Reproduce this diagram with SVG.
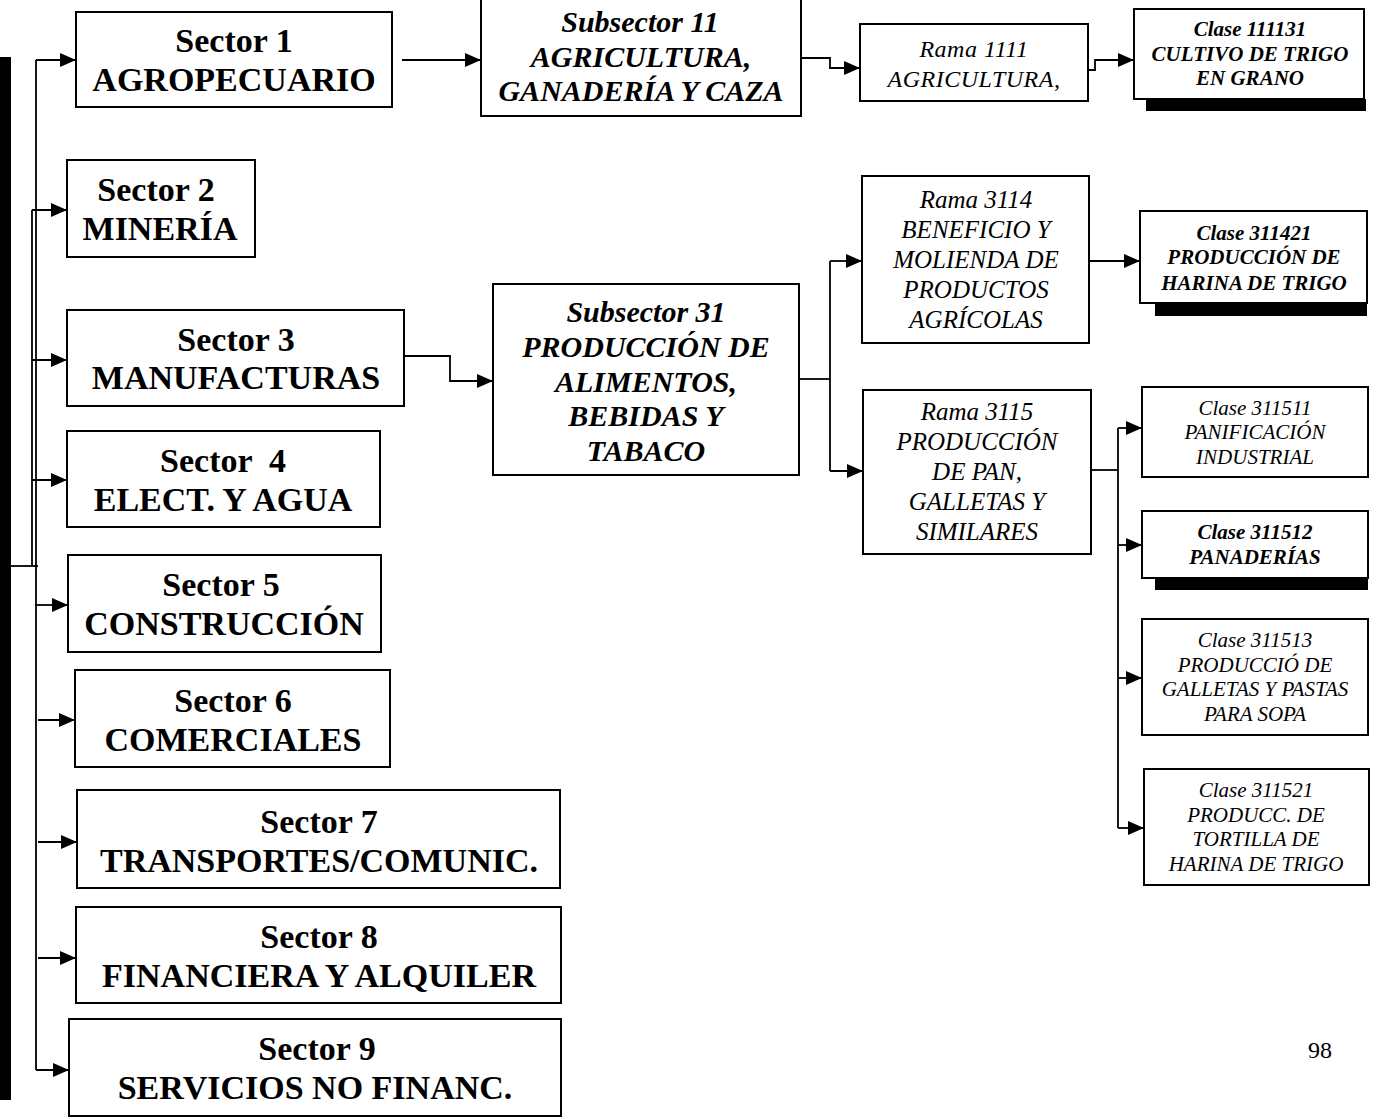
<svg xmlns="http://www.w3.org/2000/svg" width="1380" height="1119" viewBox="0 0 1380 1119">
  <style>
    .box { fill: #fff; stroke: #000; stroke-width: 2; }
    .shadow { fill: #000; }
    .wire { fill: none; stroke: #000; stroke-width: 1.8; }
    .arr { fill: none; stroke: #000; stroke-width: 1.8; marker-end: url(#ah); }
    text { fill: #000; text-anchor: middle; font-family: "Liberation Serif", "Times New Roman", serif; }
    .sec { font-size: 34px; font-weight: bold; }
    .sub { font-size: 30px; font-weight: bold; font-style: italic; }
    .rama { font-size: 25px; font-style: italic; }
    .cl { font-size: 21px; font-style: italic; }
    .clb { font-size: 21px; font-style: italic; font-weight: bold; }
  </style>
  <defs>
    <marker id="ah" viewBox="0 0 16 14" refX="16" refY="7" markerWidth="16" markerHeight="14" markerUnits="userSpaceOnUse" orient="auto">
      <path d="M0,0 L16,7 L0,14 Z" fill="#000"/>
    </marker>
  </defs>
  <rect width="1380" height="1119" fill="#fff"/>

  <!-- binding strip on the page edge -->
  <rect x="0" y="57" width="11" height="1043" fill="#000"/>

  <g id="connectors">
    <!-- trunk to the nine sectors -->
    <path class="wire" d="M36,60 V1070"/>
    <path class="wire" d="M32,210 V566"/>
    <path class="wire" d="M10,566 H38"/>
    <path class="arr" d="M36,60 H76"/>
    <path class="arr" d="M32,210 H67"/>
    <path class="arr" d="M32,360 H67"/>
    <path class="arr" d="M32,480 H67"/>
    <path class="arr" d="M36,605 H68"/>
    <path class="arr" d="M38,720 H75"/>
    <path class="arr" d="M38,842 H77"/>
    <path class="arr" d="M38,958 H76"/>
    <path class="arr" d="M36,1070 H69"/>
    <!-- sector 1 branch -->
    <path class="arr" d="M402,60 H481"/>
    <path class="arr" d="M801,58 H830 V68 H860"/>
    <path class="arr" d="M1088,70 H1095 V60 H1134"/>
    <!-- sector 3 branch -->
    <path class="arr" d="M404,356 H450 V381 H493"/>
    <path class="wire" d="M799,379 H830"/>
    <path class="wire" d="M830,261 V471"/>
    <path class="arr" d="M830,261 H862"/>
    <path class="arr" d="M830,471 H863"/>
    <path class="arr" d="M1088,261 H1140"/>
    <path class="wire" d="M1091,470 H1118"/>
    <path class="wire" d="M1118,428 V828"/>
    <path class="arr" d="M1118,428 H1142"/>
    <path class="arr" d="M1118,545 H1142"/>
    <path class="arr" d="M1118,678 H1142"/>
    <path class="arr" d="M1118,828 H1144"/>
  </g>

  <g id="sector1">
    <rect class="box" x="76" y="12" width="316" height="95"/>
    <text class="sec" x="234" y="52">Sector 1</text>
    <text class="sec" x="234" y="91">AGROPECUARIO</text>
  </g>
  <g id="sector2">
    <rect class="box" x="67" y="160" width="188" height="97"/>
    <text class="sec" x="156" y="201">Sector 2</text>
    <text class="sec" x="160" y="240">MINERÍA</text>
  </g>
  <g id="sector3">
    <rect class="box" x="67" y="310" width="337" height="96"/>
    <text class="sec" x="236" y="351">Sector 3</text>
    <text class="sec" x="236" y="389">MANUFACTURAS</text>
  </g>
  <g id="sector4">
    <rect class="box" x="67" y="431" width="313" height="96"/>
    <text class="sec" x="223" y="472" xml:space="preserve">Sector  4</text>
    <text class="sec" x="223" y="511">ELECT. Y AGUA</text>
  </g>
  <g id="sector5">
    <rect class="box" x="68" y="555" width="313" height="97"/>
    <text class="sec" x="221" y="596">Sector 5</text>
    <text class="sec" x="224" y="635">CONSTRUCCIÓN</text>
  </g>
  <g id="sector6">
    <rect class="box" x="75" y="670" width="315" height="97"/>
    <text class="sec" x="233" y="712">Sector 6</text>
    <text class="sec" x="233" y="751">COMERCIALES</text>
  </g>
  <g id="sector7">
    <rect class="box" x="77" y="790" width="483" height="98"/>
    <text class="sec" x="319" y="833">Sector 7</text>
    <text class="sec" x="319" y="872">TRANSPORTES/COMUNIC.</text>
  </g>
  <g id="sector8">
    <rect class="box" x="76" y="907" width="485" height="96"/>
    <text class="sec" x="319" y="948">Sector 8</text>
    <text class="sec" x="319" y="987">FINANCIERA Y ALQUILER</text>
  </g>
  <g id="sector9">
    <rect class="box" x="69" y="1019" width="492" height="97"/>
    <text class="sec" x="317" y="1060">Sector 9</text>
    <text class="sec" x="315" y="1099">SERVICIOS NO FINANC.</text>
  </g>

  <g id="subsector11">
    <rect class="box" x="481" y="-2" width="320" height="118"/>
    <text class="sub" x="640" y="32">Subsector 11</text>
    <text class="sub" x="641" y="67">AGRICULTURA,</text>
    <text class="sub" x="641" y="101">GANADERÍA Y CAZA</text>
  </g>
  <g id="subsector31">
    <rect class="box" x="493" y="284" width="306" height="191"/>
    <text class="sub" x="646" y="322">Subsector 31</text>
    <text class="sub" x="646" y="357">PRODUCCIÓN DE</text>
    <text class="sub" x="646" y="392">ALIMENTOS,</text>
    <text class="sub" x="646" y="426">BEBIDAS Y</text>
    <text class="sub" x="646" y="461">TABACO</text>
  </g>

  <g id="rama1111">
    <rect class="box" x="860" y="24" width="228" height="77"/>
    <text class="rama" x="974" y="57" style="font-size:24px;letter-spacing:0.5px">Rama 1111</text>
    <text class="rama" x="974" y="87" style="font-size:24px;letter-spacing:0.5px">AGRICULTURA,</text>
  </g>
  <g id="rama3114">
    <rect class="box" x="862" y="176" width="227" height="167"/>
    <text class="rama" x="976" y="208">Rama 3114</text>
    <text class="rama" x="976" y="238">BENEFICIO Y</text>
    <text class="rama" x="976" y="268">MOLIENDA DE</text>
    <text class="rama" x="976" y="298">PRODUCTOS</text>
    <text class="rama" x="976" y="328">AGRÍCOLAS</text>
  </g>
  <g id="rama3115">
    <rect class="box" x="863" y="390" width="228" height="164"/>
    <text class="rama" x="977" y="420">Rama 3115</text>
    <text class="rama" x="977" y="450">PRODUCCIÓN</text>
    <text class="rama" x="977" y="480">DE PAN,</text>
    <text class="rama" x="977" y="510">GALLETAS Y</text>
    <text class="rama" x="977" y="540">SIMILARES</text>
  </g>

  <g id="clase111131">
    <rect class="shadow" x="1146" y="99" width="220" height="12"/>
    <rect class="box" x="1134" y="9" width="230" height="90"/>
    <text class="clb" x="1250" y="36">Clase 111131</text>
    <text class="clb" x="1250" y="61">CULTIVO DE TRIGO</text>
    <text class="clb" x="1250" y="85">EN GRANO</text>
  </g>
  <g id="clase311421">
    <rect class="shadow" x="1155" y="302" width="212" height="14"/>
    <rect class="box" x="1140" y="211" width="227" height="92"/>
    <text class="clb" x="1254" y="240">Clase 311421</text>
    <text class="clb" x="1254" y="264">PRODUCCIÓN DE</text>
    <text class="clb" x="1254" y="290">HARINA DE TRIGO</text>
  </g>
  <g id="clase311511">
    <rect class="box" x="1142" y="387" width="226" height="90"/>
    <text class="cl" x="1255" y="415">Clase 311511</text>
    <text class="cl" x="1255" y="439">PANIFICACIÓN</text>
    <text class="cl" x="1255" y="464">INDUSTRIAL</text>
  </g>
  <g id="clase311512">
    <rect class="shadow" x="1155" y="577" width="213" height="13"/>
    <rect class="box" x="1142" y="511" width="226" height="67"/>
    <text class="clb" x="1255" y="539">Clase 311512</text>
    <text class="clb" x="1255" y="564">PANADERÍAS</text>
  </g>
  <g id="clase311513">
    <rect class="box" x="1142" y="619" width="226" height="116"/>
    <text class="cl" x="1255" y="647">Clase 311513</text>
    <text class="cl" x="1255" y="672">PRODUCCIÓ DE</text>
    <text class="cl" x="1255" y="696">GALLETAS Y PASTAS</text>
    <text class="cl" x="1255" y="721">PARA SOPA</text>
  </g>
  <g id="clase311521">
    <rect class="box" x="1144" y="769" width="225" height="116"/>
    <text class="cl" x="1256" y="797">Clase 311521</text>
    <text class="cl" x="1256" y="822">PRODUCC. DE</text>
    <text class="cl" x="1256" y="846">TORTILLA DE</text>
    <text class="cl" x="1256" y="871">HARINA DE TRIGO</text>
  </g>

  <text x="1320" y="1058" style="font-size:24px">98</text>
</svg>
